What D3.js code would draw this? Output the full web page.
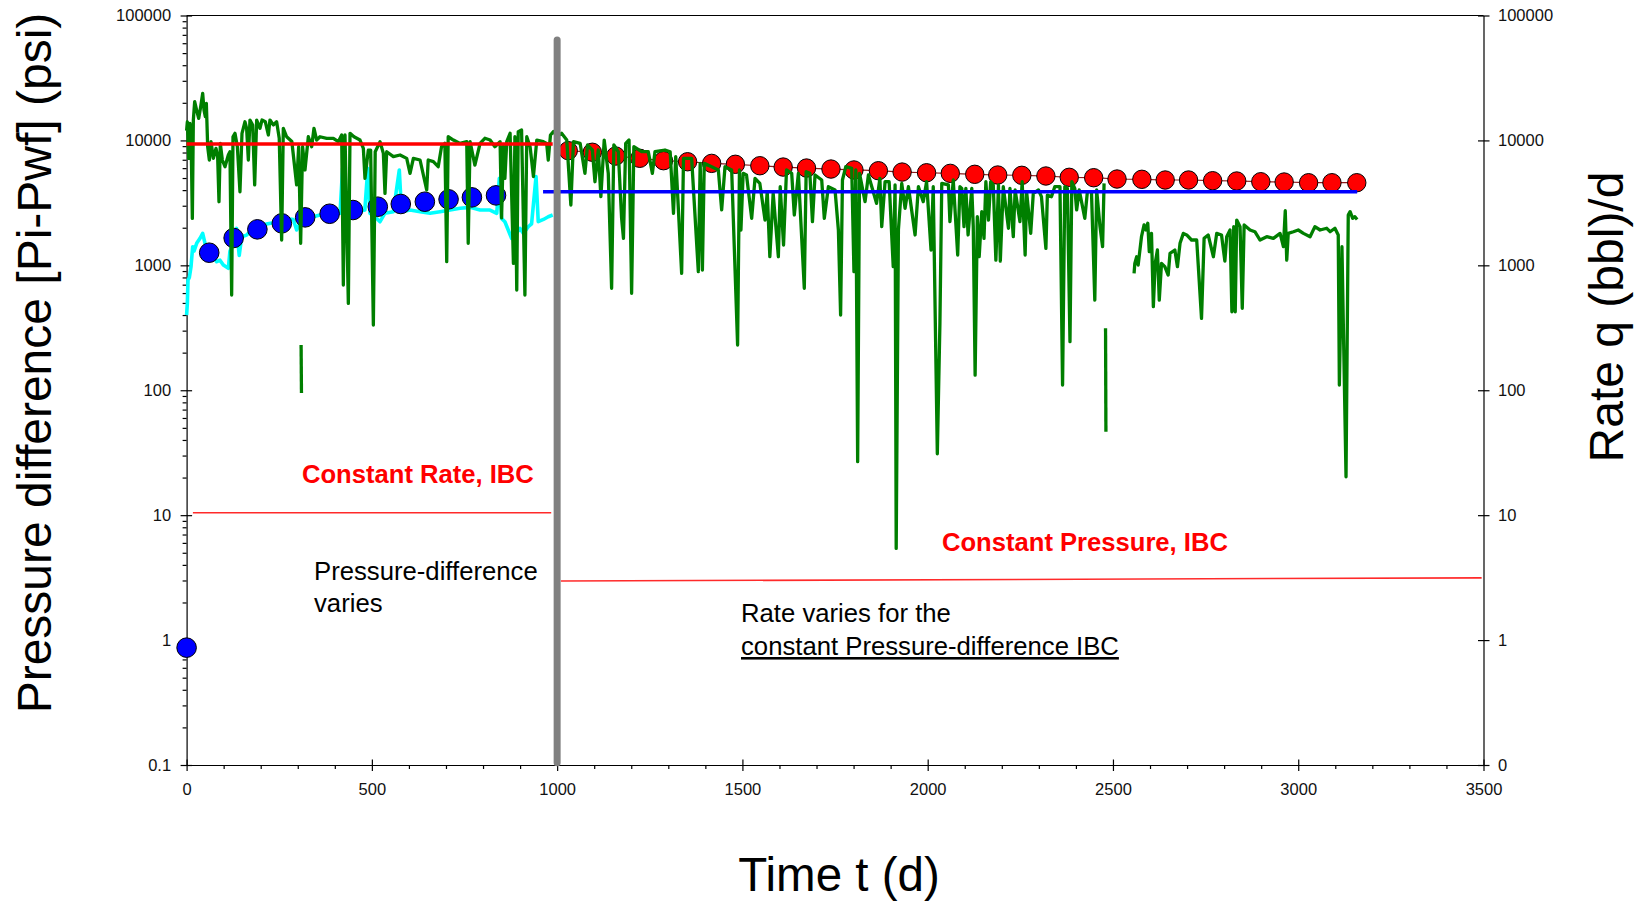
<!DOCTYPE html>
<html>
<head>
<meta charset="utf-8">
<script src="https://cdn.jsdelivr.net/npm/d3@7"></script>
<style>
  body { margin: 0; background: #fff; }
  svg { display: block; font-family: Arial, "Liberation Sans", sans-serif; }
</style>
</head>
<body>
<svg id="chart"></svg>
<script>
// ---- data ----
const xTicks = [0, 500, 1000, 1500, 2000, 2500, 3000, 3500];
const yTicks = [0.1, 1, 10, 100, 1000, 10000, 100000];
const yLabelsLeft = ['0.1', '1', '10', '100', '1000', '10000', '100000'];
const yLabelsRight = ['0', '1', '10', '100', '1000', '10000', '100000'];

// measured rate q (green), [t, q]
const rateMain = [
  [0,12000],[2,14100],[5.6,7180],[9,13700],[12.8,7870],[15.5,2375],[18.2,14560],[21.8,20400],[27,17500],
  [32.6,15000],[38,18600],[43.4,23800],[47,17500],[50.6,15500],[53.3,19800],[56.9,8900],[61.4,6970],
  [65.9,9770],[72.2,7180],[79.3,8640],[83.8,7410],[87.4,3230],[91,9470],[96.4,6970],[103.6,6160],
  [112.6,7640],[117,8120],[121.6,578],[125.2,10700],[130.6,11400],[137,8900],[144,3880],[149.5,11400],
  [157.6,14100],[162,12500],[166.6,6970],[171,14560],[178.3,13300],[183.7,4400],[189.1,14560],[198,12500],
  [203.5,14560],[212.5,14100],[220.6,11050],[225,14560],[234,13300],[243,14100],[250,10400],[256.5,1594],
  [261,12500],[270,10700],[284,9800],[297,4400],[302.4,8900],[307.8,1500],[313,8900],[319.5,5800],
  [328.5,10700],[337.5,8900],[343.8,12500],[351,10070],[360,10700],[378,10400],[396,10400],[409.5,9770],
  [418.5,11050],[423,695],[427.5,11050],[436.5,496],[441,11400],[451.7,10700],[468,10070],[477,8640],
  [481.4,4970],[490.4,8370],[496.7,8370],[504,333],[509,8120],[522,9770],[531,7870],[535.4,3770],
  [540,8120],[558,7410],[576,7640],[594,7180],[603,5450],[612,7180],[630,6970],[648,4010],[652,6970],
  [666,6760],[679,6160],[688,8900],[697,9470],[702,1069],[706,10700],[720,10070],[738,9470],[756,9770],
  [760,1500],[765,9770],[778,6350],[792,9470],[805,10400],[819,10070],[832,8900],[846,9770],[850,2400],
  [855,9000],[859,4970],[864,9770],[873,11400],[882,1037],[886,10700],[891,634],[895,11760],[904,12100],
  [913,578],[918,10700],[927,8900],[936,5130],[945,10070],[962.7,9770],[971.7,9470],[976,6970],
  [982,11050],[990,11760],[1000,10800],[1012,11400],[1026,10070],[1037,3040],[1044,9770],[1062,9480],
  [1075,5450],[1082,9190],[1095,8380],[1102,4670],[1111,8380],[1118,3545],[1127,10070],[1138,5450],
  [1147,655],[1153,9190],[1165,8120],[1174,2380],[1179,1645],[1185,9480],[1194,10070],[1201,597],
  [1207,8910],[1228,8120],[1246,8120],[1257,5450],[1264,8120],[1291,8380],[1305,8120],[1314,2610],
  [1320,7410],[1336,863],[1341,7180],[1363,7180],[1381,889],[1386,6550],[1392,917],[1397,6550],
  [1417,6160],[1435,5800],[1444,2775],[1453,6160],[1471,5800],[1487,230],[1492,5800],[1496,1918],
  [1502,5450],[1511,5290],[1525,2380],[1534,4970],[1547,4530],[1561,2305],[1567,3890],[1574,1172],
  [1583,3770],[1597,1172],[1602,4260],[1611,1455],[1619,5800],[1633,5450],[1640,2530],[1651,5450],
  [1667,655],[1672,5620],[1682,5450],[1689,2235],[1696,5290],[1714,4820],[1721,2380],[1732,4260],
  [1750,4010],[1759,1918],[1765,400],[1770,4820],[1779,6160],[1795,5980],[1801,889],[1806,5800],
  [1811,26.8],[1816,5450],[1831,3235],[1840,5290],[1862,3136],[1871,4970],[1876,2040],[1885,4670],
  [1896,4670],[1907,975],[1912,4400],[1915,5.42],[1921,1918],[1930,4530],[1939,2860],[1948,4260],
  [1966,1750],[1975,4260],[1988,3235],[1997,4670],[2009,1327],[2015,4260],[2026,31],[2033,343],
  [2038,4530],[2056,4400],[2060,2235],[2069,4820],[2081,1210],[2087,4260],[2092,4130],[2098,2040],
  [2103,4130],[2109,1750],[2119,4130],[2123,2040],[2128,132],[2134,2450],[2139,1172],[2146,2690],
  [2152,1645],[2157,4670],[2164,2305],[2170,4670],[2177,4400],[2184,1100],[2191,4400],[2196,1080],
  [2204,4260],[2218,1980],[2222,4130],[2231,1695],[2236,4010],[2249,2235],[2255,4670],[2263,1210],
  [2267,3890],[2278,1802],[2285,3770],[2299,4010],[2307,3545],[2319,1368],[2323,3650],[2334,3545],
  [2343,4260],[2357,4260],[2364,110],[2370,4260],[2377,4130],[2384,245],[2389,4670],[2397,4130],
  [2402,2775],[2409,4010],[2424,2380],[2431,3890],[2442,3890],[2451,527],[2456,4010],[2465,2040],
  [2472,1410],[2476,4530]
];
const rateLate = [
  [2557,863],[2559,1037],[2564,1172],[2568,1005],[2577,1695],[2584,2105],[2589,1918],[2594,2170],
  [2598,1286],[2604,1802],[2609,467],[2614,1037],[2620,1327],[2625,527],[2631,1037],[2640,975],
  [2649,836],[2654,1247],[2667,1327],[2674,975],[2681,1500],[2690,1802],[2699,1750],[2712,1595],
  [2726,1595],[2739,376],[2746,1645],[2757,1750],[2771,1172],[2780,1802],[2793,1750],[2802,1080],
  [2807,1695],[2816,1918],[2821,425],[2826,2040],[2830,425],[2834,2305],[2843,2040],[2849,453],
  [2854,2105],[2870,1918],[2883,1858],[2897,1595],[2915,1695],[2933,1645],[2951,1802],[2960,1410],
  [2965,2737],[2969,1100],[2973,1802],[2987,1858],[3000,1918],[3014,1802],[3032,1695],[3045,2040],
  [3059,1918],[3077,1980],[3086,1858],[3099,1980],[3108,1750],[3111,110],[3118,1410],[3129,20.3],
  [3135,2530],[3140,2690],[3147,2380],[3153,2450],[3159,2330]
];
const rateFragmentA = [[309,230],[310,95]];
const rateFragmentB = [[2480,313],[2481,46.6]];

// measured pressure difference (cyan), [t, dp]
const dpMeasured = [
  [0,400],[2,496],[3.8,762],[7.4,800],[11.9,975],[16.4,1410],[20,1300],[27.2,1500],[36.2,1645],
  [43.4,1802],[49.7,1500],[58.7,1300],[72.2,1172],[81.2,1069],[90.1,1100],[99.1,1005],[112.6,946],
  [117,1300],[126,1500],[135,1976],[142,1200],[148.6,1694],[162,1746],[180,1976],[198,2036],[216,2143],
  [234,2195],[252,2283],[270,2375],[288,2330],[297,1918],[310,2283],[324,2450],[342,2450],[360,2530],
  [378,2450],[396,2575],[414,2609],[421,5970],[427,2609],[441,2685],[459,2685],[481,2770],[489,5970],
  [495,2609],[513,2375],[522,2234],[535,2609],[558,2685],[574,5800],[580,2685],[603,2770],[630,2685],
  [657,2609],[684,2685],[711,2770],[738,2860],[765,2910],[792,2770],[819,2770],[837,2609],[844,4970],
  [850,2375],[859,2234],[868,1918],[877,1645],[886,1746],[900,1976],[909,1802],[922,2036],[931,2150],
  [943,5130],[949,2234],[963,2330],[976,2450],[988,2530]
];

// model dp at constant rate (blue dots) and model rate at constant dp (red dots)
const blueDotT = [0, 61, 127, 191, 257, 320, 386, 449, 516, 578, 643, 707, 770, 835];
const blueDotV = [0.87, 1262, 1656, 1941, 2168, 2421, 2588, 2772, 2947, 3098, 3231, 3376, 3500, 3631];
const redDotT = [1030, 1095, 1158, 1223, 1287, 1352, 1417, 1481, 1547, 1610, 1673, 1739, 1801, 1867,
  1931, 1997, 2061, 2127, 2189, 2254, 2319, 2382, 2448, 2511, 2578, 2641, 2704, 2769, 2834, 2899,
  2962, 3028, 3091, 3158];
const redDotV = [8280, 8040, 7500, 7190, 6880, 6750, 6550, 6440, 6270, 6120, 6010, 5900, 5800, 5720,
  5580, 5510, 5450, 5354, 5285, 5255, 5190, 5066, 5029, 4909, 4882, 4820, 4820, 4759, 4732, 4670,
  4645, 4585, 4585, 4585];

// constant IBC levels
const constRate = { t0: 0, t1: 988, v: 9360 };
const constDp = { t0: 962, t1: 3159, v: 3880 };

// annotation guides (data coords)
const rateGuide = [[17, 10.45], [984, 10.45]];
const pressureGuide = [[1010, 2.97], [3495, 3.15]];
const switchTime = 1000, switchTop = 63700, switchBottom = 0.104;

// ---- drawing ----
const width = 1644, height = 902;
const plot = { left: 186.6, right: 1483.5, top: 15.5, bottom: 765 };

const svg = d3.select('#chart').attr('width', width).attr('height', height);

const x = d3.scaleLinear().domain([0, 3500]).range([plot.left, plot.right]);
const y = d3.scaleLog().domain([0.1, 100000]).range([plot.bottom, plot.top]);

const minorY = [];
yTicks.slice(0, -1).forEach(d => { for (let k = 2; k <= 9; k++) minorY.push(d * k); });
const minorX = d3.range(100, 3500, 100).filter(d => d % 500 !== 0);

const axisColor = '#000';
const tickFont = '16.5px';

// minor ticks first
svg.append('g')
  .attr('transform', `translate(${plot.left},0)`)
  .call(d3.axisLeft(y).tickValues(minorY).tickSize(4).tickFormat('').tickSizeOuter(0))
  .call(g => g.select('.domain').remove());
svg.append('g')
  .attr('transform', `translate(0,${plot.bottom})`)
  .call(d3.axisBottom(x).tickValues(minorX).tickSize(4).tickFormat('').tickSizeOuter(0))
  .call(g => g.select('.domain').remove());

const leftAxis = svg.append('g')
  .attr('transform', `translate(${plot.left},0)`)
  .call(d3.axisLeft(y).tickValues(yTicks).tickSize(6).tickPadding(9.5).tickSizeOuter(0)
    .tickFormat((d, i) => yLabelsLeft[i]));
leftAxis.selectAll('.tick line').attr('x1', 5.5);

const rightAxis = svg.append('g')
  .attr('transform', `translate(${plot.right},0)`)
  .call(d3.axisRight(y).tickValues(yTicks).tickSize(6).tickPadding(8.5).tickSizeOuter(0)
    .tickFormat((d, i) => yLabelsRight[i]));
rightAxis.selectAll('.tick line').attr('x1', -5.5);

const bottomAxis = svg.append('g')
  .attr('transform', `translate(0,${plot.bottom})`)
  .call(d3.axisBottom(x).tickValues(xTicks).tickSize(6).tickPadding(12).tickSizeOuter(0)
    .tickFormat(d3.format('d')));
bottomAxis.selectAll('.tick line').attr('y1', -5.5);

[leftAxis, rightAxis, bottomAxis].forEach(g => {
  g.selectAll('text').style('font-size', tickFont).style('font-family', 'Arial, "Liberation Sans", sans-serif').attr('fill', '#111');
});
svg.selectAll('.domain, .tick line').attr('stroke', axisColor).attr('stroke-width', 1.2);

// top frame line
svg.append('line')
  .attr('x1', x(0)).attr('x2', x(3500))
  .attr('y1', y(100000)).attr('y2', y(100000))
  .attr('stroke', axisColor).attr('stroke-width', 1.2);

const line = d3.line().x(d => x(d[0])).y(d => y(d[1]));

// cyan measured pressure difference
svg.append('path')
  .datum(dpMeasured)
  .attr('d', line)
  .attr('fill', 'none')
  .attr('stroke', '#00ffff')
  .attr('stroke-width', 3.6)
  .attr('stroke-linejoin', 'round');

// blue dots
svg.append('g').selectAll('circle')
  .data(blueDotT.map((t, i) => [t, blueDotV[i]]))
  .join('circle')
  .attr('cx', d => x(d[0])).attr('cy', d => y(d[1]))
  .attr('r', 9.8)
  .attr('fill', '#0000ff')
  .attr('stroke', '#000').attr('stroke-width', 1);

// red dots with thin connecting line
const redPts = redDotT.map((t, i) => [t, redDotV[i]]);
svg.append('path')
  .datum(redPts)
  .attr('d', line)
  .attr('fill', 'none')
  .attr('stroke', '#8b1a1a')
  .attr('stroke-width', 1.2);
svg.append('g').selectAll('circle')
  .data(redPts)
  .join('circle')
  .attr('cx', d => x(d[0])).attr('cy', d => y(d[1]))
  .attr('r', 9.2)
  .attr('fill', '#ff0000')
  .attr('stroke', '#000').attr('stroke-width', 1);

// green measured rate
[rateMain, rateLate, rateFragmentA, rateFragmentB].forEach(seg => {
  svg.append('path')
    .datum(seg)
    .attr('d', line)
    .attr('fill', 'none')
    .attr('stroke', '#007f00')
    .attr('stroke-width', 3.3)
    .attr('stroke-linejoin', 'round');
});

// constant rate / constant dp levels
svg.append('line')
  .attr('x1', x(constRate.t0)).attr('x2', x(constRate.t1))
  .attr('y1', y(constRate.v)).attr('y2', y(constRate.v))
  .attr('stroke', '#ff0000').attr('stroke-width', 3.5);
svg.append('line')
  .attr('x1', x(constDp.t0)).attr('x2', x(constDp.t1))
  .attr('y1', y(constDp.v)).attr('y2', y(constDp.v))
  .attr('stroke', '#0000ff').attr('stroke-width', 3.5);

// thin red guide lines
[rateGuide, pressureGuide].forEach(g => {
  svg.append('path')
    .datum(g)
    .attr('d', line)
    .attr('fill', 'none')
    .attr('stroke', '#ff2a2a')
    .attr('stroke-width', 1.6);
});

// switch-over marker
svg.append('line')
  .attr('x1', x(switchTime)).attr('x2', x(switchTime))
  .attr('y1', y(switchTop)).attr('y2', y(switchBottom))
  .attr('stroke', '#808080').attr('stroke-width', 7).attr('stroke-linecap', 'round');

// annotation texts
const note = (txt, px, py, opts = {}) => svg.append('text')
  .attr('x', px).attr('y', py)
  .style('font-size', opts.size || '25.7px')
  .style('font-weight', opts.bold ? 'bold' : 'normal')
  .style('text-decoration', opts.underline ? 'underline' : 'none')
  .attr('fill', opts.color || '#000')
  .text(txt);

note('Constant Rate, IBC', 302, 483, { bold: true, color: '#ff0000', size: '25.6px' });
note('Constant Pressure, IBC', 942, 551, { bold: true, color: '#ff0000', size: '25.6px' });
note('Pressure-difference', 314, 580);
note('varies', 314, 612);
note('Rate varies for the', 741, 622);
note('constant Pressure-difference IBC', 741, 655, { underline: true });

// axis titles
svg.append('text')
  .attr('transform', 'translate(51,363) rotate(-90)')
  .attr('text-anchor', 'middle')
  .style('font-size', '48px')
  .text('Pressure difference [Pi-Pwf] (psi)');

svg.append('text')
  .attr('transform', 'translate(1623,317) rotate(-90)')
  .attr('text-anchor', 'middle')
  .style('font-size', '48px')
  .text('Rate q (bbl)/d');

svg.append('text')
  .attr('x', 839).attr('y', 891)
  .attr('text-anchor', 'middle')
  .style('font-size', '47.5px')
  .text('Time t (d)');
</script>
</body>
</html>
